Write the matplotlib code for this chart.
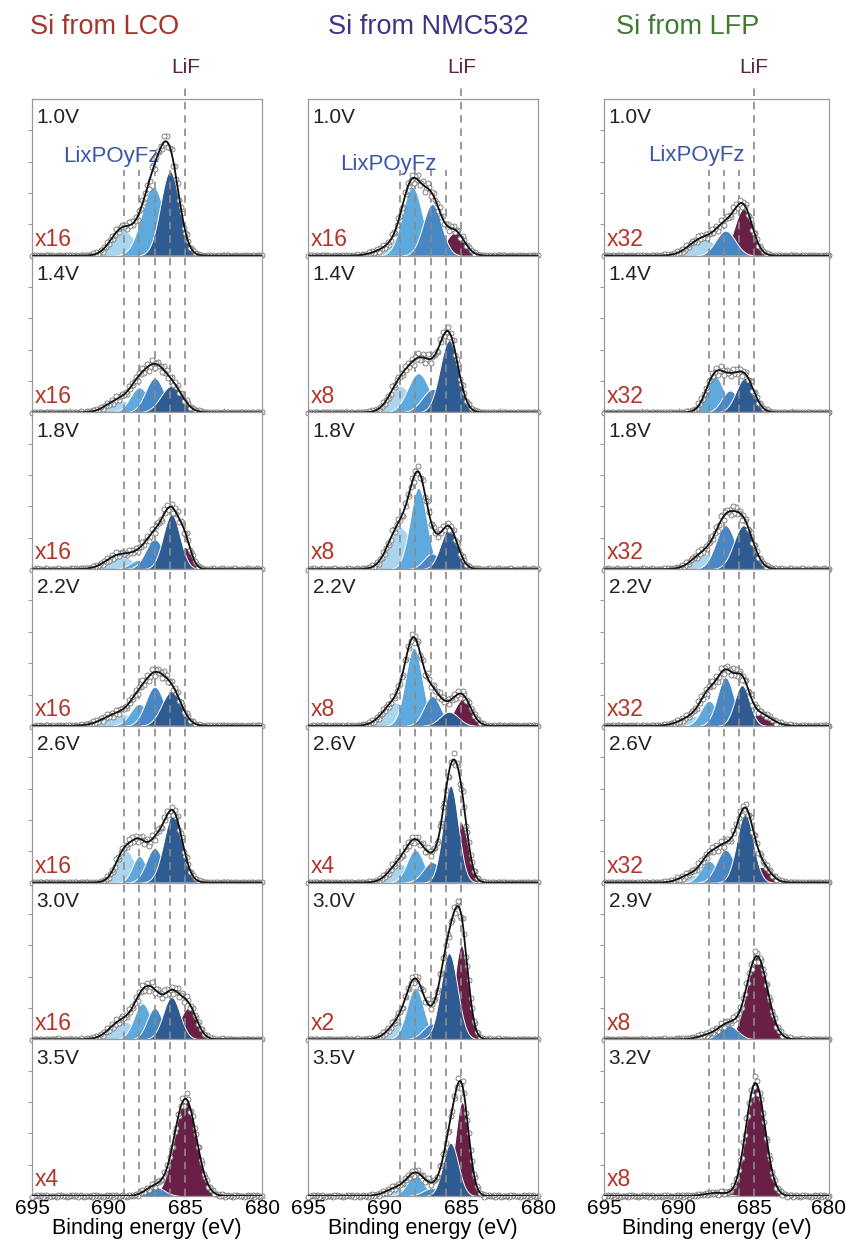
import numpy as np
import matplotlib.pyplot as plt
from matplotlib.transforms import blended_transform_factory

plt.rcParams['font.family'] = ['Liberation Sans', 'DejaVu Sans']

# species index: 0..3 = LixPOyFz components (689, 688, 687, 686 eV), 4 = LiF (685 eV)
titles = ['Si from LCO', 'Si from NMC532', 'Si from LFP']
voltages = [
    ['1.0V', '1.4V', '1.8V', '2.2V', '2.6V', '3.0V', '3.5V'],
    ['1.0V', '1.4V', '1.8V', '2.2V', '2.6V', '3.0V', '3.5V'],
    ['1.0V', '1.4V', '1.8V', '2.2V', '2.6V', '2.9V', '3.2V'],
]
scales = [
    ['x16', 'x16', 'x16', 'x16', 'x16', 'x16', 'x4'],
    ['x16', 'x8', 'x8', 'x8', 'x4', 'x2', ''],
    ['x32', 'x32', 'x32', 'x32', 'x32', 'x8', 'x8'],
]
ref_lines = [
    [689, 688, 687, 686, 685],
    [689, 688, 687, 686, 685],
    [688, 687, 686, 685],
]

# fitted peaks per panel: (species, centre eV, height, sigma eV), heights relative to panel
peaks_lco = [
    [(0, 689.1, 0.17, 0.75), (1, 687.1, 0.44, 0.75), (3, 686.0, 0.54, 0.62)],
    [(0, 689.3, 0.08, 0.80), (1, 688.0, 0.16, 0.60), (2, 687.0, 0.22, 0.60), (3, 685.9, 0.17, 0.70)],
    [(4, 685.0, 0.14, 0.40), (0, 689.3, 0.09, 0.85), (1, 688.0, 0.06, 0.60), (2, 687.0, 0.19, 0.60),
     (3, 685.9, 0.35, 0.55)],
    [(0, 689.3, 0.08, 1.00), (1, 688.0, 0.14, 0.60), (2, 687.0, 0.25, 0.60), (3, 685.9, 0.22, 0.65)],
    [(0, 688.9, 0.21, 0.60), (1, 688.0, 0.17, 0.45), (2, 687.0, 0.22, 0.55), (3, 685.8, 0.44, 0.60)],
    [(4, 684.8, 0.20, 0.55), (0, 689.1, 0.12, 0.80), (1, 687.8, 0.23, 0.55), (2, 687.0, 0.20, 0.50),
     (3, 685.9, 0.27, 0.55)],
    [(4, 685.0, 0.62, 0.72), (2, 687.0, 0.06, 0.60)],
]
peaks_nmc = [
    [(4, 685.4, 0.15, 0.60), (0, 689.5, 0.06, 0.90), (1, 688.2, 0.44, 0.65), (2, 686.9, 0.33, 0.60)],
    [(0, 689.0, 0.17, 0.70), (1, 687.8, 0.25, 0.70), (2, 686.85, 0.15, 0.70), (3, 685.8, 0.46, 0.60)],
    [(0, 689.0, 0.27, 0.75), (1, 687.8, 0.52, 0.55), (2, 686.9, 0.10, 0.55), (3, 685.8, 0.26, 0.55)],
    [(4, 684.9, 0.17, 0.55), (0, 689.3, 0.15, 0.80), (1, 688.1, 0.50, 0.55), (2, 686.9, 0.19, 0.55),
     (3, 685.8, 0.09, 0.60)],
    [(4, 685.0, 0.38, 0.45), (0, 689.0, 0.12, 0.70), (1, 688.0, 0.21, 0.55), (2, 686.9, 0.13, 0.60),
     (3, 685.7, 0.62, 0.50)],
    [(4, 685.0, 0.60, 0.45), (0, 689.0, 0.11, 0.70), (1, 688.0, 0.33, 0.55), (2, 686.9, 0.10, 0.60),
     (3, 685.8, 0.55, 0.55)],
    [(4, 684.95, 0.60, 0.45), (0, 689.2, 0.05, 0.70), (1, 688.0, 0.13, 0.55), (2, 686.9, 0.05, 0.60),
     (3, 685.7, 0.34, 0.50)],
]
peaks_lfp = [
    [(4, 685.7, 0.30, 0.60), (0, 688.4, 0.11, 0.90), (2, 686.9, 0.16, 0.65)],
    [(1, 687.6, 0.23, 0.60), (2, 686.6, 0.14, 0.55), (3, 685.6, 0.22, 0.60)],
    [(0, 688.3, 0.10, 0.80), (2, 686.9, 0.28, 0.65), (3, 685.7, 0.28, 0.65)],
    [(4, 684.6, 0.075, 0.75), (0, 688.9, 0.065, 0.90), (1, 688.0, 0.16, 0.55), (2, 686.9, 0.31, 0.55),
     (3, 685.8, 0.26, 0.50)],
    [(4, 684.5, 0.10, 0.60), (0, 689.2, 0.05, 0.70), (1, 688.0, 0.14, 0.55), (2, 686.9, 0.21, 0.60),
     (3, 685.6, 0.44, 0.55)],
    [(4, 684.8, 0.53, 0.70), (1, 687.9, 0.03, 0.70), (2, 686.7, 0.09, 0.60)],
    [(4, 684.9, 0.72, 0.64), (1, 687.5, 0.02, 0.70)],
]
all_peaks = [peaks_lco, peaks_nmc, peaks_lfp]

# scatter of measured points around the fit (read-off deviations, repeated)
residual = [0.3, -0.8, 0.5, 1.0, -0.4, -1.0, 0.7, 0.1, -0.6, 0.9, -0.2, 0.4,
            -0.9, 0.6, 0.0, -0.5, 0.8, -0.3, 1.0, -0.7, 0.2, -0.1, 0.6]

species_colors = ['#a9d5ef', '#5eaadf', '#4787c6', '#2e5b91', '#6a1f47']
title_colors = ['#a3372c', '#3b3585', '#3e7a32']
title_x = [105, 428, 688]
col_left = [32, 308, 604]
col_width = [230, 230, 225]
top_px, bot_px = 99, 1196
W, H = 852, 1247
row_h = (bot_px - top_px) / 7
spine_col = '#9a9a9a'


def gauss(x, c, h, s):
    return h * np.exp(-(x - c) ** 2 / (2 * s * s))


fig = plt.figure(figsize=(W / 100, H / 100), dpi=100)
x_fine = np.linspace(680, 695, 1501)
x_pts = np.arange(680.0, 695.01, 0.1)

for c in range(3):
    fig.text(title_x[c] / W, 1 - 27 / H, titles[c], color=title_colors[c],
             fontsize=19.5, ha='center', va='center')
    for r in range(7):
        b = 1 - (top_px + (r + 1) * row_h) / H
        ax = fig.add_axes([col_left[c] / W, b, col_width[c] / W, row_h / H])
        ax.set_xlim(695, 680)
        ax.set_ylim(0, 1)
        for sp in ax.spines.values():
            sp.set_color(spine_col)
            sp.set_linewidth(0.9)

        env = np.zeros_like(x_fine)
        env_pts = np.zeros_like(x_pts)
        for (k, cen, h, s) in all_peaks[c][r]:
            g = gauss(x_fine, cen, h, s)
            env += g
            env_pts += gauss(x_pts, cen, h, s)
            ax.fill_between(x_fine, 0, g, where=g > 0.002, facecolor=species_colors[k],
                            edgecolor='white', linewidth=0.7, zorder=2)

        # reference positions (dashed)
        for e in ref_lines[c]:
            if r == 0:
                y0, y1 = (0.0, 1.1) if e == 685 else (0.0, 0.55)
            else:
                y0, y1 = 0.0, 1.0
            ax.axvline(e, y0, y1, color='#8a8a8a', lw=1.2, ls=(0, (4.5, 3.5)),
                       zorder=3, clip_on=False)

        noise = np.array([residual[i % len(residual)] for i in range(len(x_pts))])
        amp = 0.005 + 0.045 * np.sqrt(env_pts)
        ax.plot(x_pts, env_pts + noise * amp, 'o', ms=3.6, mfc='white', mec='#707070',
                mew=0.6, zorder=4, clip_on=False)
        ax.plot(x_fine, env, color='#111111', lw=1.3, zorder=5)

        ax.text(0.02, 0.88, voltages[c][r], transform=ax.transAxes, fontsize=15,
                color='#222222', ha='left', va='center')
        if scales[c][r]:
            ax.text(0.01, 0.03, scales[c][r], transform=ax.transAxes, fontsize=16.5,
                    color='#b3352a', ha='left', va='bottom')
        if r == 0:
            trans = blended_transform_factory(ax.transData, ax.transAxes)
            ax.text(685, 1.2, 'LiF', transform=trans, fontsize=15, color='#5c2444',
                    ha='center', va='center', clip_on=False)
            lx = [0.135, 0.14, 0.195][c]
            ly = [0.63, 0.58, 0.64][c]
            ax.text(lx, ly, 'LixPOyFz', transform=ax.transAxes, fontsize=16,
                    color='#3b56a6', ha='left', va='center')

        ax.set_xticks([695, 690, 685, 680])
        ax.set_xticks([692.5, 687.5, 682.5], minor=True)
        ax.tick_params(axis='x', which='both', direction='in', length=3,
                       color=spine_col, labelsize=15, pad=2)
        if c == 1:
            ax.set_yticks([])
        else:
            ax.set_yticks([0.2, 0.4, 0.6, 0.8])
            ax.tick_params(axis='y', direction='out', length=3, color=spine_col,
                           labelleft=False)
        if r == 6:
            ax.set_xlabel('Binding energy (eV)', fontsize=15.5, labelpad=0)
        else:
            ax.tick_params(axis='x', labelbottom=False)

fig.savefig('out.png', dpi=100)
